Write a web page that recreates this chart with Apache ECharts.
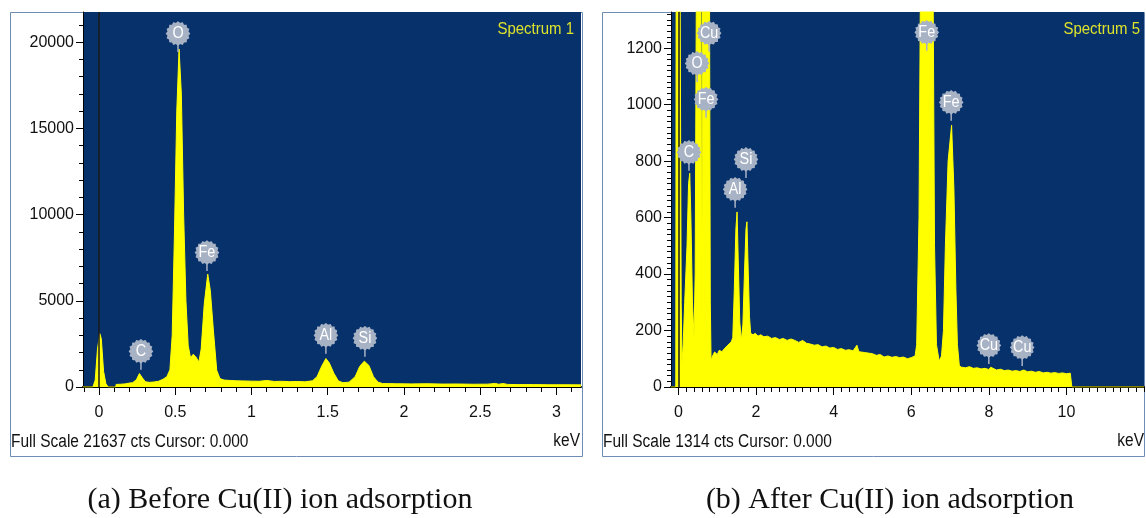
<!DOCTYPE html>
<html>
<head>
<meta charset="utf-8">
<script src="https://cdn.jsdelivr.net/npm/echarts@6/dist/echarts.min.js"></script>
<style>
  html, body { margin: 0; padding: 0; background: #ffffff; }
  #chart { width: 1146px; height: 518px; }
</style>
</head>
<body>
<div id="chart"></div>
<script>
// ---- Spectrum 1 (before Cu(II) adsorption): energy (keV) and counts ----
const beforeKeV = [-0.105, -0.04, -0.025, -0.01, 0.005, 0.015, 0.03, 0.045, 0.06, 0.11,
  0.112, 0.14, 0.17, 0.20, 0.22, 0.245, 0.265, 0.285, 0.305, 0.33,
  0.36, 0.39, 0.42, 0.445, 0.465, 0.48, 0.495, 0.51, 0.525, 0.54,
  0.555, 0.57, 0.585, 0.60, 0.618, 0.635, 0.655, 0.67, 0.69, 0.713,
  0.73, 0.75, 0.772, 0.793, 0.82, 0.86, 0.90, 0.95, 1.0, 1.05,
  1.10, 1.15, 1.20, 1.25, 1.30, 1.35, 1.40, 1.43, 1.46, 1.488,
  1.51, 1.54, 1.57, 1.60, 1.64, 1.68, 1.71, 1.74, 1.77, 1.80,
  1.83, 1.86, 1.95, 2.05, 2.15, 2.25, 2.35, 2.36, 2.38, 2.45,
  2.55, 2.60, 2.62, 2.65, 2.68, 2.75, 2.85, 2.95, 3.05, 3.16];
const beforeCounts = [0, 0, 400, 2200, 3100, 2800, 900, 200, 0, 0,
  150, 160, 180, 230, 250, 420, 780, 520, 300, 270,
  290, 330, 450, 600, 1000, 3000, 9000, 16000, 19600, 17000,
  10000, 5000, 2400, 1700, 1900, 1750, 1450, 2200, 4800, 6550,
  5600, 3300, 970, 490, 400, 380, 360, 350, 340, 330,
  380, 320, 330, 310, 320, 300, 360, 600, 1200, 1650,
  1400, 800, 350, 250, 280, 600, 1200, 1500, 1250, 600,
  280, 200, 190, 180, 190, 170, 175, 240, 170, 160,
  165, 210, 160, 200, 150, 140, 140, 130, 130, 125];

// ---- Spectrum 5 (after Cu(II) adsorption) ----
const afterKeV = [-0.193, -0.07, -0.06, 0.0, 0.04, 0.07, 0.09, 0.12, 0.16, 0.22,
  0.26, 0.29, 0.32, 0.36, 0.40, 0.43, 0.46, 0.50, 0.56, 0.58,
  0.60, 0.62, 0.66, 0.71, 0.78, 0.80, 0.82, 0.84, 0.88, 0.93,
  1.0, 1.05, 1.12, 1.19, 1.25, 1.30, 1.36, 1.40, 1.44, 1.48,
  1.51, 1.54, 1.58, 1.62, 1.66, 1.70, 1.74, 1.765, 1.79, 1.83,
  1.86, 1.92, 1.98, 2.05, 2.12, 2.2, 2.3, 2.4, 2.5, 2.6,
  2.7, 2.8, 2.9, 3.0, 3.1, 3.2, 3.3, 3.4, 3.5, 3.6,
  3.7, 3.8, 3.9, 4.0, 4.1, 4.2, 4.3, 4.4, 4.5, 4.6,
  4.65, 4.8, 5.0, 5.1, 5.2, 5.3, 5.4, 5.5, 5.6, 5.7,
  5.8, 5.9, 6.0, 6.1, 6.14, 6.2, 6.24, 6.3, 6.4, 6.5,
  6.56, 6.6, 6.65, 6.72, 6.78, 6.83, 6.88, 6.95, 7.04, 7.1,
  7.15, 7.19, 7.24, 7.3, 7.4, 7.5, 7.6, 7.7, 7.8, 7.9,
  8.0, 8.05, 8.1, 8.2, 8.3, 8.4, 8.5, 8.6, 8.7, 8.8,
  8.9, 9.0, 9.1, 9.2, 9.3, 9.4, 9.5, 9.6, 9.7, 9.8,
  9.9, 10.0, 10.1, 10.13, 10.14, 12.0];
const afterCounts = [0, 0, 1500, 3000, 1500, 300, 84, 150, 300, 500,
  720, 757, 600, 300, 177, 400, 1400, 3000, 3500, 1400,
  140, 1400, 1500, 3000, 2500, 1400, 300, 95, 110, 124,
  115, 130, 125, 137, 145, 150, 160, 175, 350, 560,
  620, 450, 230, 165, 220, 400, 560, 585, 450, 250,
  190, 185, 190, 180, 185, 178, 180, 172, 175, 168,
  172, 165, 170, 165, 158, 165, 155, 152, 148, 150,
  142, 145, 138, 140, 133, 136, 130, 132, 128, 148,
  125, 122, 118, 112, 115, 106, 110, 105, 108, 104,
  106, 100, 104, 110, 150, 600, 1500, 3000, 3500, 2800,
  1500, 500, 150, 92, 110, 200, 500, 800, 927, 700,
  350, 150, 75, 70, 68, 72, 66, 68, 64, 66,
  62, 70, 64, 60, 63, 58, 60, 56, 58, 55,
  60, 54, 56, 52, 55, 50, 52, 49, 51, 48,
  50, 47, 49, 48, 0, 0];

// ---- Element markers: name, energy (keV), marker height (counts) ----
const beforeLabelNames = ['O', 'Fe', 'C', 'Al', 'Si'];
const beforeLabelKeV = [0.518, 0.708, 0.275, 1.488, 1.744];
const beforeLabelCounts = [20500, 7800, 2070, 3000, 2830];

const afterLabelNames = ['Cu', 'O', 'Fe', 'C', 'Al', 'Si', 'Fe', 'Fe', 'Cu', 'Cu'];
const afterLabelKeV = [0.79, 0.48, 0.71, 0.27, 1.46, 1.74, 6.40, 7.03, 8.0, 8.86];
const afterLabelCounts = [1253, 1146, 1019, 831, 700, 806, 1256, 1008, 147, 140];

// ---- Axis tick labels ----
const beforeXTicks = [0, 0.5, 1, 1.5, 2, 2.5, 3];
const beforeYTicks = [0, 5000, 10000, 15000, 20000];
const afterXTicks = [0, 2, 4, 6, 8, 10];
const afterYTicks = [0, 200, 400, 600, 800, 1000, 1200];

const NAVY = '#06316a';
const YELLOW = '#ffff00';
const BADGE = '#a8b2c5';
const SANS = "'Liberation Sans Narrow','Liberation Sans',Arial,sans-serif";

function steps(from, to, step) {
  const out = [];
  for (let v = from; v <= to + 1e-9; v += step) out.push(Math.round(v * 1000) / 1000);
  return out;
}
function pairs(xs, ys) { return xs.map((x, i) => [x, ys[i]]); }
function fmt(v) { return String(Math.round(v * 10) / 10); }

const panels = [
  { grid: { left: 83, top: 12, width: 498, height: 375 },
    xMin: -0.105, xMax: 3.161, yMax: 21750,
    xMajor: beforeXTicks, xMinor: steps(-0.1, 3.1, 0.1),
    yMajor: beforeYTicks, yMinor: steps(0, 21000, 1000),
    keV: beforeKeV, counts: beforeCounts,
    names: beforeLabelNames, lKeV: beforeLabelKeV, lCounts: beforeLabelCounts },
  { grid: { left: 671, top: 12, width: 473, height: 375 },
    xMin: -0.193, xMax: 12.0, yMax: 1328,
    xMajor: afterXTicks, xMinor: steps(0, 12, 0.2),
    yMajor: afterYTicks, yMinor: steps(0, 1320, 20),
    keV: afterKeV, counts: afterCounts,
    names: afterLabelNames, lKeV: afterLabelKeV, lCounts: afterLabelCounts }
];

const grid = [], xAxis = [], yAxis = [], series = [];

panels.forEach((p, gi) => {
  grid.push(Object.assign({ show: true, backgroundColor: NAVY, borderWidth: 0 }, p.grid));

  // main x axis: line, major ticks and labels
  xAxis.push({
    type: 'value', gridIndex: gi, min: p.xMin, max: p.xMax, position: 'bottom',
    axisLine: { onZero: false, lineStyle: { color: '#000', width: 2 } },
    axisTick: { customValues: p.xMajor, length: 8, lineStyle: { color: '#000', width: 1 } },
    axisLabel: { customValues: p.xMajor, formatter: fmt, color: '#111', fontSize: 16,
      fontFamily: SANS, margin: 18 },
    splitLine: { show: false }
  });
  // companion x axis carrying the minor ticks
  xAxis.push({
    type: 'value', gridIndex: gi, min: p.xMin, max: p.xMax, position: 'bottom',
    axisLine: { show: false, onZero: false },
    axisTick: { customValues: p.xMinor, length: 5, lineStyle: { color: '#000', width: 1 } },
    axisLabel: { show: false }, splitLine: { show: false }
  });
  yAxis.push({
    type: 'value', gridIndex: gi, min: 0, max: p.yMax, position: 'left',
    axisLine: { show: true, onZero: false, lineStyle: { color: '#000', width: 1 } },
    axisTick: { customValues: p.yMajor, length: 7, lineStyle: { color: '#000', width: 1 } },
    axisLabel: { customValues: p.yMajor, formatter: v => String(v), color: '#111',
      fontSize: 16, fontFamily: SANS, margin: 9 },
    splitLine: { show: false }
  });
  yAxis.push({
    type: 'value', gridIndex: gi, min: 0, max: p.yMax, position: 'left',
    axisLine: { show: false, onZero: false },
    axisTick: { customValues: p.yMinor, length: 4, lineStyle: { color: '#000', width: 1 } },
    axisLabel: { show: false }, splitLine: { show: false }
  });

  // the spectrum itself
  series.push({
    type: 'line', xAxisIndex: gi * 2, yAxisIndex: gi * 2, z: 2,
    data: pairs(p.keV, p.counts), showSymbol: false, symbol: 'none', sampling: 'none',
    lineStyle: { color: YELLOW, width: 1 }, areaStyle: { color: YELLOW, opacity: 1 },
    clip: true, silent: true,
    markLine: {
      silent: true, symbol: ['none', 'none'], label: { show: false },
      lineStyle: { color: '#1b1b1b', width: 1.5, type: 'solid' },
      data: [{ xAxis: 0 }]
    }
  });

  // element badges, drawn above the spectrum
  const names = p.names;
  series.push({
    type: 'custom', xAxisIndex: gi * 2, yAxisIndex: gi * 2, silent: true, z: 10,
    data: pairs(p.lKeV, p.lCounts),
    renderItem: function (params, api) {
      const c = api.coord([api.value(0), api.value(1)]);
      const r = 11.5, pts = [];
      for (let k = 0; k < 64; k++) {
        const a = k / 64 * Math.PI * 2;
        const rr = r + 0.8 * Math.cos(a * 16);
        pts.push([c[0] + rr * Math.cos(a), c[1] + rr * Math.sin(a)]);
      }
      return {
        type: 'group',
        children: [
          { type: 'line', shape: { x1: c[0], y1: c[1] + r - 1, x2: c[0], y2: c[1] + r + 7 },
            style: { stroke: BADGE, lineWidth: 1.5 } },
          { type: 'polygon', shape: { points: pts }, style: { fill: BADGE } },
          { type: 'text', x: c[0], y: c[1] + 0.5, scaleX: 0.9,
            style: { text: names[params.dataIndex], fill: '#ffffff', align: 'center',
              verticalAlign: 'middle', font: '16px ' + SANS } }
        ]
      };
    }
  });
});

function txt(x, y, text, opts, sx) {
  return { type: 'text', x: x, y: y, silent: true, scaleX: sx || 1,
    style: Object.assign({ text: text, fill: '#111', font: '18px ' + SANS,
      align: 'left', verticalAlign: 'middle' }, opts || {}) };
}

const SERIF = '30px "Liberation Serif", "Times New Roman", serif';
const graphic = [
  { type: 'rect', shape: { x: 10.5, y: 12.5, width: 572, height: 444 },
    style: { fill: 'none', stroke: '#6f8db4', lineWidth: 1 }, z: -1, silent: true },
  { type: 'rect', shape: { x: 602.5, y: 12.5, width: 542, height: 444 },
    style: { fill: 'none', stroke: '#6f8db4', lineWidth: 1 }, z: -1, silent: true },
  txt(11, 442, 'Full Scale 21637 cts Cursor: 0.000', null, 0.86),
  txt(580, 441, 'keV', { align: 'right' }, 0.86),
  txt(574, 29, 'Spectrum 1', { align: 'right', fill: '#dde22b', font: '17px ' + SANS }, 0.88),
  txt(603, 442, 'Full Scale 1314 cts Cursor: 0.000', null, 0.86),
  txt(1144, 441, 'keV', { align: 'right' }, 0.86),
  txt(1140, 29, 'Spectrum 5', { align: 'right', fill: '#dde22b', font: '17px ' + SANS }, 0.88),
  txt(280, 500, '(a) Before Cu(II) ion adsorption', { align: 'center', font: SERIF }),
  txt(890, 500, '(b) After Cu(II) ion adsorption', { align: 'center', font: SERIF })
];

const chart = echarts.init(document.getElementById('chart'), null, { renderer: 'canvas' });
chart.setOption({
  animation: false,
  backgroundColor: '#ffffff',
  grid: grid, xAxis: xAxis, yAxis: yAxis, series: series, graphic: graphic
});
</script>
</body>
</html>
